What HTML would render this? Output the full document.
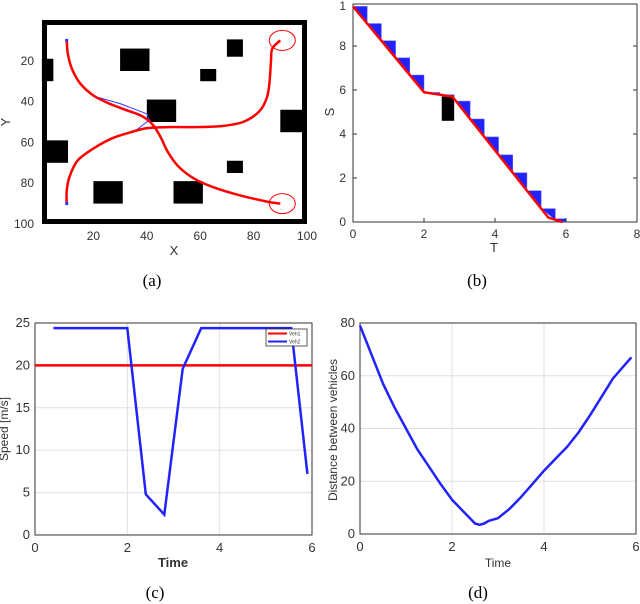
<!DOCTYPE html>
<html><head><meta charset="utf-8"><style>
body{margin:0;background:#fff;width:640px;height:604px;overflow:hidden}
svg{display:block}
text{font-family:"Liberation Sans",sans-serif;fill:#333}
.cap{font-family:"Liberation Serif",serif;font-size:17px;fill:#000}
</style></head><body>
<svg id="s" width="640" height="604" viewBox="0 0 640 604" xmlns="http://www.w3.org/2000/svg">
<text class="cap" x="152" y="286" text-anchor="middle">(a)</text>
<text class="cap" x="477" y="286" text-anchor="middle">(b)</text>
<text class="cap" x="155" y="598" text-anchor="middle">(c)</text>
<text class="cap" x="478" y="598" text-anchor="middle">(d)</text>
</svg>
<script>
// ---- Panel (a) data
const obstacles=[[30,14,41,25],[70,9.5,76,18],[60,24,66,30],[0.7,19,5,30],[40,39,51,50],[90,44,100,55],[2,59,10.5,70],[70,69,76,75],[20,79,31,90],[50,79,61,90]];
const path1X=[10,10.5,12,15,20,26,32,38,42,45,48,52,58,65,75,85,90];
const path1Y=[10,17,24,31,37,41,44,47,51,57,65,72,78,82,86,89,90];
const path2X=[10,10,11,14,20,27,34,40,48,58,68,76,82,85,86,86.5,87,90];
const path2Y=[90,84,77,69,63,58,55,53,52.5,52.5,52,50,45,38,30,20,14,10];
const xTicksA=[20,40,60,80,100], yTicksA=[20,40,60,80,100];
// ---- Panel (b) data
const lineT=[0,2,2.8,5.5,5.9], lineS=[9.8,5.9,5.7,0.2,0];
const triT=[0,0.4,0.8,1.2,1.6,2.05,2.45,2.9,3.3,3.7,4.1,4.5,4.9,5.3,5.6];
const xTicksB=[0,2,4,6,8], yTicksB=[0,2,4,6,8];
// ---- Panel (c) data
const vehT1=[0,6], vehV1=[20,20];
const vehT2=[0.4,2,2.4,2.8,3.2,3.6,5.55,5.9];
const vehV2=[24.4,24.4,4.8,2.4,19.6,24.4,24.4,7.2];
const xTicksC=[0,2,4,6], yTicksC=[0,5,10,15,20,25];
// ---- Panel (d) data
const distT=[0,0.25,0.5,0.75,1,1.25,1.5,1.75,2,2.25,2.5,2.6,2.7,2.8,3,3.25,3.5,3.75,4,4.25,4.5,4.75,5,5.25,5.5,5.75,5.9];
const distD=[79,68,57,48,40,32,25.5,19,13,8.5,4,3.5,4,5,6,9.5,14,19,24,28.5,33,38.5,45,52,59,64,67];
const xTicksD=[0,2,4,6], yTicksD=[0,20,40,60,80];

const S=document.getElementById('s'),NS='http://www.w3.org/2000/svg';
function mk(tag,at,parent){const e=document.createElementNS(NS,tag);for(const k in at)e.setAttribute(k,at[k]);(parent||S).appendChild(e);return e;}
function lin(d0,d1,p0,p1){return v=>p0+(v-d0)*(p1-p0)/(d1-d0);}
function poly(xs,ys,fx,fy){return xs.map((x,i)=>fx(x).toFixed(1)+','+fy(ys[i]).toFixed(1)).join(' ');}
function smooth(xs,ys,fx,fy){const P=xs.map((x,i)=>[fx(x),fy(ys[i])]);let d='M'+P[0][0]+','+P[0][1];
for(let i=0;i<P.length-1;i++){const p0=P[Math.max(0,i-1)],p1=P[i],p2=P[i+1],p3=P[Math.min(P.length-1,i+2)];
const c1=[p1[0]+(p2[0]-p0[0])/6,p1[1]+(p2[1]-p0[1])/6],c2=[p2[0]-(p3[0]-p1[0])/6,p2[1]-(p3[1]-p1[1])/6];
d+=' C'+c1.map(v=>v.toFixed(1))+' '+c2.map(v=>v.toFixed(1))+' '+p2.map(v=>v.toFixed(1));}return d;}
function txt(x,y,s,a,size,name){const t=mk('text',{x:x,y:y,'text-anchor':a||'middle','font-size':size||12});t.textContent=s;return t;}

// ===== Panel A
{const fx=lin(0,100,40,307),fy=lin(0,100,20,224);
let g=mk('g',{});
let f=mk('rect',{x:44.5,y:22.5,width:260,height:199,fill:'#fff',stroke:'#000','stroke-width':5},g);

obstacles.forEach(o=>{const r=mk('rect',{x:fx(o[0]),y:fy(o[1]),width:fx(o[2])-fx(o[0]),height:fy(o[3])-fy(o[1]),fill:'#000'},g);
});
const bl=mk('polyline',{points:[[22,38],[30,41],[40,46],[41,49],[35,55]].map(p=>fx(p[0])+','+fy(p[1])).join(' '),fill:'none',stroke:'#33f','stroke-width':1},g);

[[path1X,path1Y,'vehicle1-path'],[path2X,path2Y,'vehicle2-path']].forEach(p=>{const l=mk('path',{d:smooth(p[0],p[1],fx,fy),fill:'none',stroke:'#f00','stroke-width':2.5,'stroke-linejoin':'round'},g);
});
[[10,10],[10,90]].forEach(p=>{const r=mk('rect',{x:fx(p[0])-1.5,y:fy(p[1])-1.5,width:3,height:3,fill:'#33f'},g);});
[[90,10],[90,90]].forEach(p=>{const c=mk('ellipse',{cx:fx(p[0])+2,cy:fy(p[1]),rx:13,ry:10,fill:'none',stroke:'#f00','stroke-width':1},g);});
xTicksA.forEach(v=>txt(fx(v),240,v,'middle',12,'x-tick-label'));
yTicksA.forEach(v=>txt(34,fy(v)+4,v,'end',12,'y-tick-label'));
txt(174,255,'X','middle',13,'x-axis-title');
const yt=txt(0,0,'Y','middle',13,'y-axis-title');yt.setAttribute('transform','translate(10,122) rotate(-90)');}

// ===== Panel B
{const fx=lin(0,8,353,637),fy=lin(0,10,222,2);
const g=mk('g',{});
const ax=mk('rect',{x:353,y:4,width:284,height:218,fill:'none',stroke:'#333','stroke-width':1},g);
function sAt(t){for(let i=0;i<lineT.length-1;i++)if(t<=lineT[i+1]){return lineS[i]+(lineS[i+1]-lineS[i])*(t-lineT[i])/(lineT[i+1]-lineT[i]);}return 0;}
triT.forEach(t=>{const s=sAt(t),t2=t+0.4,s2=sAt(t2);
const p=mk('polygon',{points:[fx(t),fy(s),fx(t2),fy(s),fx(t2),fy(s2)].join(','),fill:'#22f',stroke:'#66f','stroke-width':0.5},g);
});
const ob=mk('rect',{x:fx(2.5),y:fy(5.7),width:fx(2.85)-fx(2.5),height:fy(4.6)-fy(5.7),fill:'#000'},g);
const l=mk('polyline',{points:poly(lineT,lineS,fx,fy),fill:'none',stroke:'#f00','stroke-width':2.5},g);
xTicksB.forEach(v=>{mk('line',{x1:fx(v),x2:fx(v),y1:222,y2:218,stroke:'#333'},g);txt(fx(v),238,v,'middle',12,'x-tick-label');});
yTicksB.forEach(v=>{mk('line',{x1:353,x2:357,y1:fy(v),y2:fy(v),stroke:'#333'},g);mk('line',{x1:633,x2:637,y1:fy(v),y2:fy(v),stroke:'#333'},g);txt(346,fy(v)+4,v,'end',12,'y-tick-label');});
txt(346,10,'1','end',12,'y-tick-label-top');
txt(494,252,'T','middle',13,'x-axis-title');
const yt=txt(0,0,'S','middle',13,'y-axis-title');yt.setAttribute('transform','translate(334,112) rotate(-90)');}

// ===== Panel C
{const fx=lin(0,6,35,312),fy=lin(0,25,535,323);
const g=mk('g',{});
xTicksC.forEach(v=>{const gl=mk('line',{x1:fx(v),x2:fx(v),y1:323,y2:535,stroke:'#e0e0e0'},g);txt(fx(v),552,v,'middle',13,'x-tick-label');});
yTicksC.forEach(v=>{const gl=mk('line',{x1:35,x2:312,y1:fy(v),y2:fy(v),stroke:'#e0e0e0'},g);txt(30,fy(v)+4,v,'end',13,'y-tick-label');});
const ax=mk('rect',{x:35,y:323,width:277,height:212,fill:'none',stroke:'#333'},g);
const r=mk('polyline',{points:poly(vehT1,vehV1,fx,fy),fill:'none',stroke:'#f00','stroke-width':2.5},g);
const b=mk('polyline',{points:poly(vehT2,vehV2,fx,fy),fill:'none',stroke:'#22f','stroke-width':2.5},g);
const lg=mk('g',{},g);
mk('rect',{x:266,y:329,width:41,height:17,fill:'#fff',stroke:'#333','stroke-width':0.8},lg);
mk('line',{x1:268,x2:287,y1:333.5,y2:333.5,stroke:'#f00','stroke-width':2},lg);
mk('line',{x1:268,x2:287,y1:341.5,y2:341.5,stroke:'#22f','stroke-width':2},lg);
const t1=txt(289,335.5,'Veh1','start',5,'legend-veh1');const t2=txt(289,343.5,'Veh2','start',5,'legend-veh2');
lg.appendChild(t1);lg.appendChild(t2);
const xt=txt(173,567,'Time','middle',13,'x-axis-title');xt.setAttribute('font-weight','bold');
const yt=txt(0,0,'Speed [m/s]','middle',12,'y-axis-title');yt.setAttribute('transform','translate(8,429) rotate(-90)');}

// ===== Panel D
{const fx=lin(0,6,360,636),fy=lin(0,80,534,323);
const g=mk('g',{});
xTicksD.forEach(v=>{const gl=mk('line',{x1:fx(v),x2:fx(v),y1:323,y2:534,stroke:'#e0e0e0'},g);txt(fx(v),551,v,'middle',13,'x-tick-label');});
yTicksD.forEach(v=>{const gl=mk('line',{x1:360,x2:636,y1:fy(v),y2:fy(v),stroke:'#e0e0e0'},g);txt(355,fy(v)+4,v,'end',13,'y-tick-label');});
const ax=mk('rect',{x:360,y:323,width:276,height:211,fill:'none',stroke:'#333'},g);
const b=mk('polyline',{points:poly(distT,distD,fx,fy),fill:'none',stroke:'#22f','stroke-width':2.5,'stroke-linejoin':'round'},g);
txt(498,567,'Time','middle',12,'x-axis-title');
const yt=txt(0,0,'Distance between vehicles','middle',12,'y-axis-title');yt.setAttribute('transform','translate(337,430) rotate(-90)');}
</script>
</body></html>
